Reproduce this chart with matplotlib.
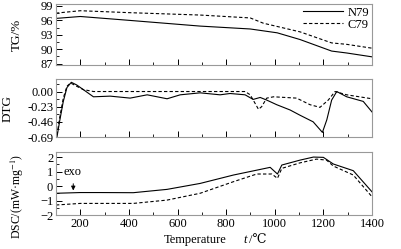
import matplotlib
matplotlib.use("Agg")
import matplotlib.pyplot as plt
import numpy as np
from matplotlib.ticker import MultipleLocator, FormatStrFormatter

plt.rcParams['font.family'] = ['Liberation Serif', 'DejaVu Serif']
plt.rcParams['mathtext.fontset'] = 'stix'

# ---- data ----
tg_n79_t = [100, 200, 400, 693, 899, 1010, 1104, 1234, 1296, 1400]
tg_n79_v = [96.4, 96.8, 96.0, 94.8, 94.2, 93.4, 92.0, 89.6, 89.2, 88.4]
tg_c79_t = [100, 200, 400, 693, 899, 953, 1104, 1234, 1296, 1400]
tg_c79_v = [97.5, 98.0, 97.6, 97.1, 96.5, 95.4, 93.6, 91.3, 91.0, 90.2]

dtg_n79_t = [104, 115, 130, 145, 163, 185, 212, 254, 323, 405, 475, 557, 611, 693, 775, 816, 878,
             911, 940, 967, 1008, 1063, 1104, 1158, 1196, 1214, 1234, 1255, 1296, 1364, 1400]
dtg_n79_v = [-0.69, -0.45, -0.15, 0.06, 0.14, 0.10, 0.03, -0.08, -0.07, -0.10, -0.05, -0.11, -0.05,
             -0.02, -0.05, -0.03, -0.05, -0.12, -0.09, -0.13, -0.20, -0.28, -0.36, -0.46, -0.62,
             -0.43, -0.13, 0.0, -0.08, -0.15, -0.31]
dtg_c79_t = [104, 115, 130, 145, 160, 185, 212, 254, 400, 600, 693, 878, 899, 933, 946, 967, 995,
             1090, 1145, 1186, 1220, 1248, 1296, 1400]
dtg_c79_v = [-0.66, -0.40, -0.10, 0.08, 0.13, 0.08, 0.03, 0.0, 0.0, 0.0, 0.0, 0.0, -0.05, -0.27,
             -0.23, -0.10, -0.08, -0.10, -0.20, -0.24, -0.13, 0.0, -0.05, -0.11]

dsc_n79_t = [100, 200, 282, 418, 557, 693, 830, 981, 1011, 1029, 1104, 1159, 1200, 1241, 1323, 1400]
dsc_n79_v = [-0.5, -0.45, -0.45, -0.46, -0.23, 0.18, 0.76, 1.29, 0.83, 1.45, 1.79, 2.0, 1.98, 1.52, 1.06, -0.4]
dsc_c79_t = [100, 200, 418, 557, 693, 830, 926, 988, 1011, 1029, 1104, 1172, 1213, 1241, 1323, 1400]
dsc_c79_v = [-1.31, -1.2, -1.2, -0.97, -0.5, 0.3, 0.83, 0.83, 0.53, 1.22, 1.6, 1.86, 1.79, 1.38, 0.76, -0.74]

W, H = 402, 249
fig = plt.figure(figsize=(W / 100, H / 100), dpi=100)

def ax_px(top, bottom, left=56, right=372):
    return fig.add_axes([left / W, 1 - bottom / H, (right - left) / W, (bottom - top) / H])

ax1 = ax_px(4, 65)
ax2 = ax_px(79, 137)
ax3 = ax_px(152, 215)

fs = 9
spine_c = '#999999'
for ax in (ax1, ax2, ax3):
    ax.set_xlim(100, 1400)
    ax.xaxis.set_major_locator(MultipleLocator(200))
    ax.xaxis.set_minor_locator(MultipleLocator(100))
    ax.tick_params(which='both', direction='in', labelsize=fs, colors='black', pad=2)
    ax.tick_params(which='major', length=4, width=0.7)
    ax.tick_params(which='minor', length=2, width=0.6)
    for s in ax.spines.values():
        s.set_color(spine_c)
        s.set_linewidth(0.8)

for ax in (ax1, ax2):
    ax.tick_params(axis='x', labelbottom=False)

lw = 0.8
ax1.plot(tg_n79_t, tg_n79_v, color='black', lw=lw, label='N79')
ax1.plot(tg_c79_t, tg_c79_v, color='black', lw=lw, ls=(0, (3, 2)), label='C79')
ax1.set_ylim(86.7, 99.4)
ax1.set_yticks([87, 90, 93, 96, 99])
ax1.yaxis.set_minor_locator(MultipleLocator(1.5))
ax1.set_ylabel('TG/%', fontsize=fs + 0.5)
ax1.yaxis.set_label_coords(-0.104, 0.5)
ax1.legend(loc='upper right', frameon=False, fontsize=fs, handlelength=3.2,
           borderpad=0.1, labelspacing=0.0, handletextpad=0.4, borderaxespad=0.1)

ax2.plot(dtg_n79_t, dtg_n79_v, color='black', lw=lw)
ax2.plot(dtg_c79_t, dtg_c79_v, color='black', lw=lw, ls=(0, (3, 2)))
ax2.set_ylim(-0.69, 0.19)
ax2.set_yticks([0.0, -0.23, -0.46, -0.69])
ax2.yaxis.set_major_formatter(FormatStrFormatter('%.2f'))
ax2.yaxis.set_minor_locator(MultipleLocator(0.115))
ax2.set_ylabel('DTG', fontsize=fs + 0.5)
ax2.yaxis.set_label_coords(-0.135, 0.5)

ax3.plot(dsc_n79_t, dsc_n79_v, color='black', lw=lw)
ax3.plot(dsc_c79_t, dsc_c79_v, color='black', lw=lw, ls=(0, (3, 2)))
ax3.set_ylim(-2, 2.35)
ax3.set_yticks([-2, -1, 0, 1, 2])
ax3.yaxis.set_minor_locator(MultipleLocator(0.5))
ax3.set_ylabel('DSC/(mW·mg$^{-1}$)', fontsize=8.5)
ax3.yaxis.set_label_coords(-0.095, 0.30)
ax3.annotate('', xy=(171, -0.5), xytext=(171, 0.35),
             arrowprops=dict(arrowstyle='-|>', color='black', lw=0.7, mutation_scale=6))
ax3.text(130, 0.95, 'exo', fontsize=fs, va='center', ha='left')

fig.text(227 / W, 1 - 240 / H, 'Temperature', fontsize=fs, ha='right', va='center')
fig.text(243 / W, 1 - 240 / H, 't', fontsize=fs, ha='left', va='center', style='italic')
fig.text(249 / W, 1 - 240 / H, '/℃', fontsize=fs, ha='left', va='center',
         family=['Liberation Serif', 'DejaVu Serif'])

fig.savefig('out.png', dpi=100)
